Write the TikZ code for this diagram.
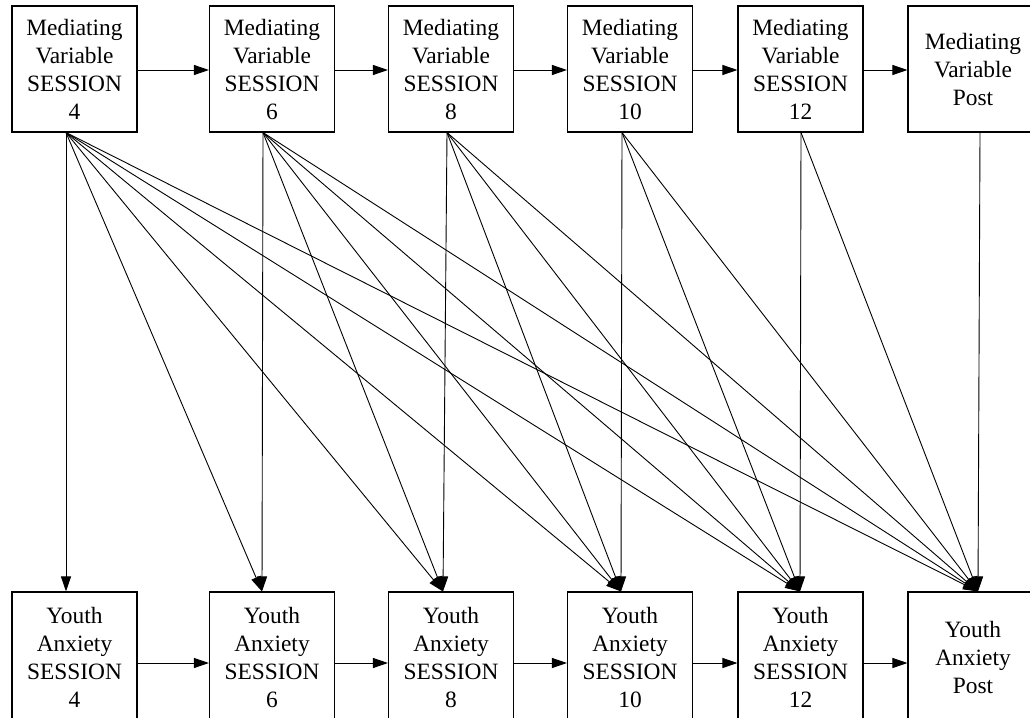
\documentclass[tikz,border=0pt]{standalone}
\usepackage{fontspec}
\setmainfont{Liberation Serif}
\usetikzlibrary{arrows.meta,calc}
\tikzset{
  varbox/.style={draw,line width=1.1pt,minimum width=125pt,minimum height=126pt,inner sep=0pt,align=center,font=\fontsize{23.4}{28}\selectfont},
  lastbox/.style={varbox,minimum width=130pt},
  link/.style={line width=0.9pt,-{Triangle[length=15pt,width=10pt]}}
}
\begin{document}
\begin{tikzpicture}[x=1pt,y=-1pt]
\useasboundingbox (0,0) rectangle (1030,717);
% mediating variable row
\node[varbox](m4) at (74.5,69){Mediating\\Variable\\SESSION\\4};
\node[varbox](m6) at (272,69){Mediating\\Variable\\SESSION\\6};
\node[varbox](m8) at (451,69){Mediating\\Variable\\SESSION\\8};
\node[varbox](m10) at (630,69){Mediating\\Variable\\SESSION\\10};
\node[varbox](m12) at (800.5,69){Mediating\\Variable\\SESSION\\12};
\node[lastbox](mpost) at (973,69){Mediating\\Variable\\Post};
% youth anxiety row
\begin{scope}[varbox/.append style={minimum height=130pt}]
\node[varbox](y4) at (74.5,657){Youth\\Anxiety\\SESSION\\4};
\node[varbox](y6) at (272,657){Youth\\Anxiety\\SESSION\\6};
\node[varbox](y8) at (451,657){Youth\\Anxiety\\SESSION\\8};
\node[varbox](y10) at (630,657){Youth\\Anxiety\\SESSION\\10};
\node[varbox](y12) at (800.5,657){Youth\\Anxiety\\SESSION\\12};
\node[lastbox](ypost) at (973,657){Youth\\Anxiety\\Post};
\end{scope}
% connection points
\foreach \n/\dx in {4/-8.5,6/-9,8/-4,10/-8,12/0.5,post/7}
  \coordinate (m\n o) at ($(m\n.south)+(\dx,0)$);
\foreach \n/\dx in {4/-8.5,6/-10,8/-8,10/-9,12/-0.5,post/5}
  \coordinate (y\n i) at ($(y\n.north)+(\dx,0)$);
% arrows along each row
\foreach \a/\b in {4/6,6/8,8/10,10/12,12/post}{
  \draw[link]($(m\a.east)+(0,1)$)--($(m\b.west)+(0,1)$);
  \draw[link]($(y\a.east)+(0,6)$)--($(y\b.west)+(0,6)$);
}
% mediator to later anxiety
\foreach \i/\js in {4/{4,6,8,10,12,post},6/{6,8,10,12,post},8/{8,10,12,post},10/{10,12,post},12/{12,post},post/{post}}
  \foreach \j in \js
    \draw[link](m\i o)--(y\j i);
\end{tikzpicture}
\end{document}
